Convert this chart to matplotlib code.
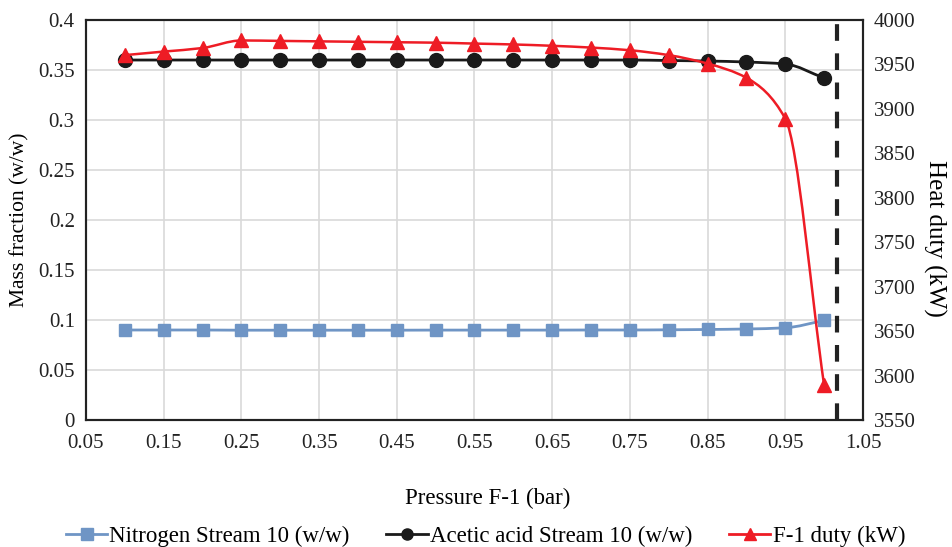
import numpy as np
import matplotlib.pyplot as plt
from matplotlib.path import Path
from matplotlib.patches import PathPatch
from matplotlib.lines import Line2D

plt.rcParams['font.family'] = ['Liberation Serif', 'DejaVu Serif']

# data
pressure = [0.10, 0.15, 0.20, 0.25, 0.30, 0.35, 0.40, 0.45, 0.50, 0.55,
            0.60, 0.65, 0.70, 0.75, 0.80, 0.85, 0.90, 0.95, 1.00]
nitrogen = [0.090, 0.090, 0.090, 0.0898, 0.0898, 0.0898, 0.0898, 0.0898, 0.0899, 0.0899,
            0.0899, 0.0899, 0.0900, 0.0900, 0.0902, 0.0905, 0.0910, 0.0922, 0.0995]
acetic = [0.360, 0.360, 0.360, 0.360, 0.360, 0.360, 0.360, 0.360, 0.360, 0.360,
          0.360, 0.360, 0.360, 0.360, 0.3595, 0.359, 0.358, 0.356, 0.342]
duty = [3960.5, 3964.5, 3968.5, 3977.0, 3976.5, 3976.0, 3975.5, 3975.0, 3974.5, 3973.5,
        3972.5, 3971.0, 3969.0, 3966.0, 3960.5, 3951.0, 3935.0, 3889.0, 3589.0]
dash_x = 1.016


def smooth_path(ax, xs, ys, color, lw):
    # smoothed line drawn as cubic Bezier segments (monotone tangents, no overshoot)
    xs = np.asarray(xs, float); ys = np.asarray(ys, float)
    h = np.diff(xs); d = np.diff(ys) / h
    m = np.zeros_like(ys)
    m[0] = d[0]; m[-1] = d[-1]
    for i in range(1, len(ys) - 1):
        if d[i - 1] * d[i] > 0:
            m[i] = 2 * d[i - 1] * d[i] / (d[i - 1] + d[i])
    verts = [(xs[0], ys[0])]; codes = [Path.MOVETO]
    for i in range(len(xs) - 1):
        verts += [(xs[i] + h[i] / 3, ys[i] + m[i] * h[i] / 3),
                  (xs[i + 1] - h[i] / 3, ys[i + 1] - m[i + 1] * h[i] / 3),
                  (xs[i + 1], ys[i + 1])]
        codes += [Path.CURVE4] * 3
    ax.add_patch(PathPatch(Path(verts, codes), facecolor='none', edgecolor=color,
                           lw=lw, zorder=2))


fig = plt.figure(figsize=(9.52, 5.47), dpi=100)
ax = fig.add_axes([0.0903, 0.2322, 0.8162, 0.7312])
ax2 = ax.twinx()

ax.set_xlim(0.05, 1.05)
ax.set_ylim(0, 0.4)
ax2.set_ylim(3550, 4000)
xt = np.round(np.arange(0.05, 1.051, 0.1), 2)
yt = np.round(np.arange(0, 0.401, 0.05), 2)
ax.set_xticks(xt)
ax.set_xticklabels([f"{v:g}" for v in xt])
ax.set_yticks(yt)
ax.set_yticklabels([f"{v:g}" for v in yt])
ax2.set_yticks(np.arange(3550, 4001, 50))

ax.grid(True, color='#d9d9d9', lw=1.2)
ax.set_axisbelow(True)
for a in (ax, ax2):
    a.tick_params(length=0, labelsize=15, pad=8, colors='#222222')
    for s in a.spines.values():
        s.set_color('#222222'); s.set_linewidth(1.5)
ax.tick_params(axis='x', pad=10)

blue = '#6f95c5'
smooth_path(ax, pressure, nitrogen, blue, 2)
ax.plot(pressure, nitrogen, 's', color=blue, ms=8, zorder=3)
smooth_path(ax, pressure, acetic, '#1a1a1a', 2)
ax.plot(pressure, acetic, 'o', color='#1a1a1a', ms=10, zorder=3)
smooth_path(ax2, pressure, duty, '#ee1c25', 1.8)
ax2.plot(pressure, duty, '^', color='#ee1c25', ms=9.5, zorder=3)

ax.axvline(dash_x, color='#222222', lw=3, ls=(0, (4, 3)), zorder=4)

ax.set_ylabel('Mass fraction (w/w)', fontsize=15.5, va='center')
ax.yaxis.set_label_coords(-0.085, 0.5)
ax2.set_ylabel('Heat duty (kW)', fontsize=18, rotation=270, va='center')
ax2.yaxis.set_label_coords(1.092, 0.455)
fig.text(0.512, 0.088, 'Pressure F-1 (bar)', ha='center', va='center', fontsize=16.5)

handles = [
    Line2D([], [], color=blue, marker='s', ms=8, lw=2),
    Line2D([], [], color='#1a1a1a', marker='o', ms=8, lw=2),
    Line2D([], [], color='#ee1c25', marker='^', ms=8, lw=2),
]
labels = ['Nitrogen Stream 10 (w/w)', 'Acetic acid Stream 10 (w/w)', 'F-1 duty (kW)']
fig.legend(handles, labels, loc='center', bbox_to_anchor=(0.51, 0.02), ncol=3,
           frameon=False, fontsize=16.5, handlelength=1.8, handletextpad=0.1,
           columnspacing=1.6)

fig.savefig('out.png', dpi=100)
